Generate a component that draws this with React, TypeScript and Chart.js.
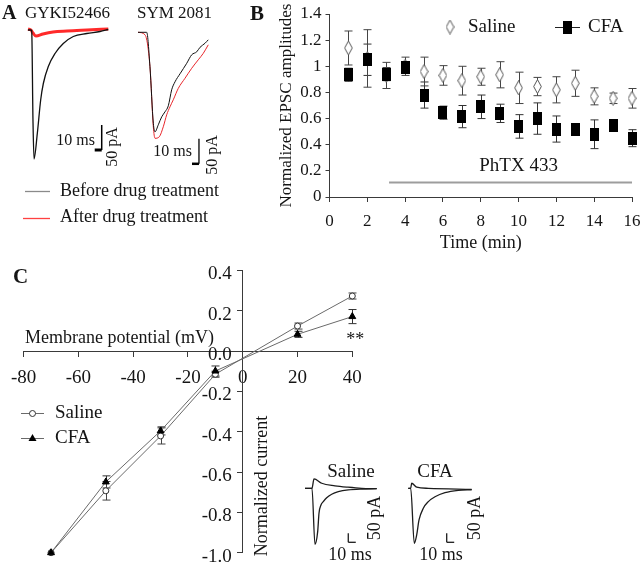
import { useEffect, useRef } from "react";
import { Chart, registerables } from "chart.js";

Chart.register(...registerables);

const W = 640;
const H = 565;
const SERIF = "Liberation Serif";
const INK = "#151515";
const AXIS = "#3a3a3a";

// ---------------- Panel A: example EPSC traces (ms, pA) ----------------
const gykiBeforeMs = [0, 4.3, 5.3, 7.1, 8.6, 13.3, 18.1, 21.9, 29, 38.6, 50.4, 64.7, 83.9, 102.9, 114.7];
const gykiBeforePA = [0, 0, -2, -180, -258, -207, -140, -107, -73, -47, -27, -13, -7, -3, 1];
const gykiAfterMs = [0, 4.3, 7.1, 11.4, 21.4, 35.7, 55.7, 84.3, 114.7];
const gykiAfterPA = [2, 0, -6, -12, -8, -4, -2, 0, 2];
const symBeforeMs = [0, 12.4, 17.1, 21.9, 24.3, 29, 33.9, 38.6, 43.3, 48.1, 52.9, 60, 69.6, 76.7, 83.9, 88.6, 95.7, 100.4];
const symBeforePA = [0, 0, -69, -182, -199, -185, -169, -159, -147, -115, -99, -83, -62, -45, -39, -30, -22, -15];
const symAfterMs = [0, 10, 17.1, 21.9, 24.3, 30.4, 36.1, 41, 45.7, 50.4, 57.6, 67.1, 76.7, 86.1, 93.3, 100.4];
const symAfterPA = [0, -5, -69, -189, -212, -209, -189, -165, -149, -135, -112, -92, -72, -55, -42, -25];
const drugNames = ["GYKI52466", "SYM 2081"];
const traceLegend = ["Before drug treatment", "After drug treatment"];
const barMs = 10;
const barPA = 50;

// ---------------- Panel B: normalized EPSC amplitude vs time ----------------
const timeMin = [1, 2, 3, 4, 5, 6, 7, 8, 9, 10, 11, 12, 13, 14, 15, 16];
const salineAmp = [1.14, 1.06, 0.93, 1.0, 0.96, 0.93, 0.89, 0.92, 0.935, 0.835, 0.845, 0.82, 0.87, 0.77, 0.755, 0.755];
const salineAmpErr = [0.13, 0.22, 0.1, 0.07, 0.11, 0.075, 0.11, 0.065, 0.1, 0.12, 0.07, 0.1, 0.1, 0.065, 0.04, 0.075];
const cfaAmp = [0.935, 1.05, 0.94, 0.99, 0.78, 0.645, 0.615, 0.69, 0.64, 0.54, 0.6, 0.52, 0.52, 0.48, 0.55, 0.45];
const cfaAmpErr = [0.05, 0.12, 0.05, 0.04, 0.1, 0.05, 0.085, 0.09, 0.07, 0.09, 0.12, 0.1, 0.03, 0.11, 0.03, 0.065];
const phtxMin = [3.15, 16];
const phtxLevel = 0.11;

// ---------------- Panel C: I-V relation ----------------
const membranePotential = [-70, -50, -30, -10, 20, 40];
const salineCurrent = [-1.0, -0.693, -0.421, -0.115, 0.124, 0.273];
const salineCurrentErr = [0, 0.046, 0.04, 0.015, 0.015, 0.015];
const cfaCurrent = [-1.0, -0.649, -0.396, -0.099, 0.083, 0.171];
const cfaCurrentErr = [0, 0.03, 0.02, 0.025, 0.015, 0.035];
// inset traces (ms, pA): outward (+40 mV) and inward (-70 mV)
const salineOutMs = [0, 9.3, 12, 22.3, 40, 57.3, 75.6, 95.6];
const salineOutPA = [0, 0, 52, 28, 14, 6, 0, -2];
const salineInMs = [0, 9.3, 13.3, 16.9, 18.7, 21.3, 24.4, 28.9, 35.6, 44.4, 57.7, 75.6, 95.6];
const salineInPA = [0, 0, -311, -241, -137, -93, -74, -52, -33, -19, -9, -4, -2];
const cfaOutMs = [0, 3.2, 4.5, 11.2, 26.7, 84.5];
const cfaOutPA = [0, 0, 28, 6, 0, -6];
const cfaInMs = [0, 3.2, 8, 11.2, 14.3, 20, 26.7, 35.6, 48.9, 66.7, 84.5];
const cfaInPA = [0, 0, -306, -259, -176, -111, -74, -47, -24, -11, -8];

type Area = { left: number; top: number; right: number; bottom: number };
const padOf = (a: Area) => ({ left: a.left, top: a.top, right: W - a.right, bottom: H - a.bottom });
const xy = (xs: number[], ys: number[]) => xs.map((x, i) => ({ x, y: ys[i] }));

function label(ctx: CanvasRenderingContext2D, s: string, x: number, y: number, size: number, o: any = {}) {
  ctx.save();
  ctx.font = `${o.bold ? "bold " : ""}${size}px ${SERIF}`;
  ctx.fillStyle = o.color || INK;
  ctx.textAlign = o.align || "left";
  ctx.textBaseline = "middle";
  ctx.translate(x, y);
  if (o.rotate) ctx.rotate(o.rotate);
  ctx.fillText(s, 0, 0);
  ctx.restore();
}

function seg(ctx: CanvasRenderingContext2D, x1: number, y1: number, x2: number, y2: number, color: string, w: number) {
  ctx.save();
  ctx.strokeStyle = color;
  ctx.lineWidth = w;
  ctx.beginPath();
  ctx.moveTo(x1, y1);
  ctx.lineTo(x2, y2);
  ctx.stroke();
  ctx.restore();
}

const errorBars = {
  id: "errorBars",
  beforeDatasetsDraw(chart: any) {
    const ctx = chart.ctx;
    chart.data.datasets.forEach((ds: any, i: number) => {
      if (!ds.errors) return;
      const meta = chart.getDatasetMeta(i);
      const ys = chart.scales[meta.yAxisID];
      ctx.save();
      ctx.strokeStyle = ds.errorColor || AXIS;
      ctx.lineWidth = 1;
      meta.data.forEach((el: any, j: number) => {
        const e = ds.errors[j];
        if (!e) return;
        const v = ds.data[j].y;
        const x = Math.round(el.x) + 0.5;
        const t = ys.getPixelForValue(v + e);
        const b = ys.getPixelForValue(v - e);
        const c = ds.errorCap || 4;
        ctx.beginPath();
        ctx.moveTo(x, t);
        ctx.lineTo(x, b);
        ctx.moveTo(x - c, t);
        ctx.lineTo(x + c, t);
        ctx.moveTo(x - c, b);
        ctx.lineTo(x + c, b);
        ctx.stroke();
      });
      ctx.restore();
    });
  },
};

function traceChart(canvas: HTMLCanvasElement, area: Area, xr: number[], yr: number[], datasets: any[], draw: (c: any) => void) {
  return new Chart(canvas, {
    type: "scatter",
    data: {
      datasets: datasets.map((d) => ({
        showLine: true,
        pointRadius: 0,
        borderWidth: 1.2,
        borderColor: "#1c1c1c",
        clip: false,
        ...d,
      })),
    },
    options: {
      animation: false,
      responsive: false,
      events: [],
      layout: { padding: padOf(area) },
      plugins: { legend: { display: false }, tooltip: { enabled: false } },
      scales: {
        x: { type: "linear", display: false, min: xr[0], max: xr[1] },
        y: { type: "linear", display: false, min: yr[0], max: yr[1] },
      },
    } as any,
    plugins: [{ id: "ann", afterDraw: (c: any) => draw(c) }],
  });
}

function scaleBarSets(t: number, i: number, color: string, hw: number, vw: number, lShape: boolean) {
  // lShape: vertical on left of horizontal ("L"); otherwise "_|"
  const h = lShape ? [{ x: t, y: i }, { x: t + barMs, y: i }] : [{ x: t - barMs, y: i }, { x: t, y: i }];
  const v = [{ x: t, y: i }, { x: t, y: i + barPA }];
  return [
    { data: h, borderColor: color, borderWidth: hw, cubicInterpolationMode: "default" },
    { data: v, borderColor: color, borderWidth: vw, cubicInterpolationMode: "default" },
  ];
}

function makeDiamond() {
  const c = document.createElement("canvas");
  c.width = 9;
  c.height = 15;
  const g = c.getContext("2d")!;
  g.beginPath();
  g.moveTo(4.5, 0.5);
  g.lineTo(8.3, 7.5);
  g.lineTo(4.5, 14.5);
  g.lineTo(0.7, 7.5);
  g.closePath();
  g.fillStyle = "#fff";
  g.fill();
  g.strokeStyle = "#555";
  g.lineWidth = 1;
  g.stroke();
  return c;
}

function makeBlock() {
  const c = document.createElement("canvas");
  c.width = 9;
  c.height = 13;
  const g = c.getContext("2d")!;
  g.fillStyle = "#000";
  g.fillRect(0, 0, 9, 13);
  return c;
}

const axisFont = (size: number) => ({ family: SERIF, size, weight: "normal", style: "normal" });

export default function App() {
  const r0 = useRef<HTMLCanvasElement>(null);
  const r1 = useRef<HTMLCanvasElement>(null);
  const r2 = useRef<HTMLCanvasElement>(null);
  const r3 = useRef<HTMLCanvasElement>(null);
  const r4 = useRef<HTMLCanvasElement>(null);
  const r5 = useRef<HTMLCanvasElement>(null);

  useEffect(() => {
    Chart.defaults.font.family = SERIF;
    Chart.defaults.color = INK;
    const charts: Chart[] = [];
    const mono = { cubicInterpolationMode: "monotone" };

    // ---- Panel A: GYKI52466 ----
    charts.push(
      traceChart(
        r0.current!,
        { left: 28, right: 112, top: 20, bottom: 170 },
        [0, 120],
        [-280, 20],
        [
          { data: xy(gykiBeforeMs, gykiBeforePA), borderColor: "#111", borderWidth: 1.3, ...mono },
          { data: xy(gykiAfterMs, gykiAfterPA), borderColor: "#ff2a2a", borderWidth: 3, ...mono },
          ...scaleBarSets(105.3, -240, "#000", 3, 1.5, false),
        ],
        (c) => {
          const ctx = c.ctx;
          label(ctx, "A", 2, 14, 20, { bold: true });
          label(ctx, drugNames[0], 25, 14, 17);
          label(ctx, "10 ms", 95, 141, 16, { align: "right" });
          label(ctx, "50 pA", 113, 147, 16, { align: "center", rotate: -Math.PI / 2 });
          seg(ctx, 25, 191.5, 50, 191.5, "#8a8a8a", 1.3);
          label(ctx, traceLegend[0], 60, 191, 18);
          seg(ctx, 23, 218.5, 50, 218.5, "#ff4040", 1.3);
          label(ctx, traceLegend[1], 60, 217, 18);
        }
      )
    );

    // ---- Panel A: SYM 2081 ----
    charts.push(
      traceChart(
        r1.current!,
        { left: 138, right: 222, top: 22.3, bottom: 172.3 },
        [0, 120],
        [-280, 20],
        [
          { data: xy(symBeforeMs, symBeforePA), borderColor: "#111", borderWidth: 1, ...mono },
          { data: xy(symAfterMs, symAfterPA), borderColor: "#e8262b", borderWidth: 1, ...mono },
          ...scaleBarSets(87.1, -263, "#000", 2.5, 1.3, false),
        ],
        (c) => {
          const ctx = c.ctx;
          label(ctx, drugNames[1], 137, 14, 17);
          label(ctx, "10 ms", 192, 152, 16, { align: "right" });
          label(ctx, "50 pA", 213, 155, 16, { align: "center", rotate: -Math.PI / 2 });
        }
      )
    );

    // ---- Panel C insets ----
    const insetY = [-320, 60];
    charts.push(
      traceChart(
        r2.current!,
        { left: 305, right: 380, top: 477.5, bottom: 545.9 },
        [0, 100],
        insetY,
        [
          { data: xy(salineOutMs, salineOutPA), borderWidth: 1.3, ...mono },
          { data: xy(salineInMs, salineInPA), borderWidth: 1.3, ...mono },
          ...scaleBarSets(57.7, -300, "#1c1c1c", 1.3, 1.3, true),
        ],
        (c) => {
          const ctx = c.ctx;
          label(ctx, "Saline", 351, 472, 19, { align: "center" });
          label(ctx, "10 ms", 350, 555, 18, { align: "center" });
          label(ctx, "50 pA", 375, 518, 18, { align: "center", rotate: -Math.PI / 2 });
        }
      )
    );
    charts.push(
      traceChart(
        r3.current!,
        { left: 408.3, right: 483.3, top: 477.5, bottom: 545.9 },
        [0, 100],
        insetY,
        [
          { data: xy(cfaOutMs, cfaOutPA), borderWidth: 1.3, ...mono },
          { data: xy(cfaInMs, cfaInPA), borderWidth: 1.3, ...mono },
          ...scaleBarSets(51.2, -300, "#1c1c1c", 1.3, 1.3, true),
        ],
        (c) => {
          const ctx = c.ctx;
          label(ctx, "CFA", 435, 472, 19, { align: "center" });
          label(ctx, "10 ms", 441, 555, 18, { align: "center" });
          label(ctx, "50 pA", 475, 518, 18, { align: "center", rotate: -Math.PI / 2 });
        }
      )
    );

    // ---- Panel B ----
    const diamond = makeDiamond();
    const block = makeBlock();
    const gridTicks = (len: number) => ({
      display: true,
      drawOnChartArea: false,
      drawTicks: true,
      tickLength: len,
      color: AXIS,
      lineWidth: 1,
    });
    charts.push(
      new Chart(r4.current!, {
        type: "scatter",
        data: {
          datasets: [
            {
              label: "CFA",
              data: xy(timeMin, cfaAmp),
              pointStyle: block as any,
              pointRadius: 5,
              clip: false,
              errors: cfaAmpErr,
              errorColor: "#333",
              errorCap: 4,
            } as any,
            {
              label: "Saline",
              data: xy(timeMin, salineAmp),
              pointStyle: diamond as any,
              pointRadius: 5,
              clip: false,
              errors: salineAmpErr,
              errorColor: "#444",
              errorCap: 4,
            } as any,
            {
              label: "PhTX 433",
              data: phtxMin.map((x) => ({ x, y: phtxLevel })),
              showLine: true,
              pointRadius: 0,
              borderColor: "#9d9d9d",
              borderWidth: 2,
              clip: false,
            },
          ],
        },
        options: {
          animation: false,
          responsive: false,
          events: [],
          layout: { padding: { left: 276.5, top: 14, right: 8, bottom: 311 } },
          plugins: { legend: { display: false }, tooltip: { enabled: false } },
          scales: {
            x: {
              type: "linear",
              position: "bottom",
              min: 0,
              max: 16,
              ticks: { stepSize: 2, font: axisFont(17), color: INK, padding: 9, autoSkip: false, maxRotation: 0 },
              grid: gridTicks(5),
              border: { display: true, color: AXIS, width: 1 },
              title: { display: true, text: "Time (min)", color: INK, font: axisFont(18), padding: { top: 0, bottom: 0 } },
              afterFit: (s: any) => {
                s.height = 57;
                s.paddingLeft = 0;
                s.paddingRight = 0;
              },
            },
            y: {
              type: "linear",
              position: "left",
              min: 0,
              max: 1.4,
              ticks: {
                stepSize: 0.2,
                font: axisFont(17),
                color: INK,
                padding: 4,
                callback: (v: any) => String(Number(Number(v).toFixed(1))),
              },
              grid: gridTicks(4),
              border: { display: true, color: AXIS, width: 1 },
              afterFit: (s: any) => {
                s.width = 53;
                s.paddingTop = 0;
                s.paddingBottom = 0;
              },
            },
          },
        } as any,
        plugins: [
          errorBars,
          {
            id: "annB",
            afterDraw: (c: any) => {
              const { ctx } = c;
              const { x, y } = c.scales;
              const ds = c.data.datasets;
              label(ctx, "B", 250, 15, 21, { bold: true });
              label(ctx, "Normalized EPSC amplitudes", 287, (y.top + y.bottom) / 2, 17, {
                align: "center",
                rotate: -Math.PI / 2,
              });
              ctx.drawImage(diamond, 450 - diamond.width / 2, 27 - diamond.height / 2);
              label(ctx, ds[1].label, 468, 27, 19);
              seg(ctx, 555, 27.5, 580, 27.5, "#222", 1);
              ctx.drawImage(block, 567 - block.width / 2, 27 - block.height / 2);
              label(ctx, ds[0].label, 588, 27, 19);
              label(ctx, ds[2].label, x.getPixelForValue(10), y.getPixelForValue(0.235), 19, { align: "center" });
            },
          },
        ],
      })
    );

    // ---- Panel C ----
    charts.push(
      new Chart(r5.current!, {
        type: "scatter",
        data: {
          datasets: [
            {
              label: "CFA",
              data: xy(membranePotential, cfaCurrent),
              showLine: true,
              borderColor: "#6a6a6a",
              borderWidth: 1,
              pointStyle: "triangle",
              pointRadius: 4,
              pointBackgroundColor: "#000",
              pointBorderColor: "#000",
              pointBorderWidth: 1,
              clip: false,
              errors: cfaCurrentErr,
              errorColor: "#333",
              errorCap: 4,
            } as any,
            {
              label: "Saline",
              data: xy(membranePotential, salineCurrent),
              showLine: true,
              borderColor: "#6a6a6a",
              borderWidth: 1,
              pointStyle: "circle",
              pointRadius: 3,
              pointBackgroundColor: "#fff",
              pointBorderColor: "#333",
              pointBorderWidth: 1,
              clip: false,
              errors: salineCurrentErr,
              errorColor: "#444",
              errorCap: 4,
            } as any,
          ],
        },
        options: {
          animation: false,
          responsive: false,
          events: [],
          layout: { padding: { left: 20.7, top: 270.4, right: W - 352.3, bottom: H - 552.7 } },
          plugins: { legend: { display: false }, tooltip: { enabled: false } },
          scales: {
            x: {
              type: "linear",
              position: { y: 0 },
              min: -80,
              max: 40,
              ticks: { stepSize: 20, font: axisFont(19), color: INK, padding: 11, autoSkip: false, maxRotation: 0 },
              grid: gridTicks(5),
              border: { display: true, color: AXIS, width: 1 },
            },
            y: {
              type: "linear",
              position: { x: 0 },
              min: -1,
              max: 0.4,
              ticks: { stepSize: 0.2, display: false },
              grid: gridTicks(5),
              border: { display: true, color: AXIS, width: 1 },
            },
          },
        } as any,
        plugins: [
          errorBars,
          {
            id: "annC",
            afterDraw: (c: any) => {
              const { ctx } = c;
              const { x, y } = c.scales;
              const ds = c.data.datasets;
              const ax = x.getPixelForValue(0);
              label(ctx, "C", 13, 278, 21, { bold: true });
              y.ticks.forEach((t: any) => {
                label(ctx, (Math.abs(t.value) < 1e-9 ? 0 : t.value).toFixed(1), ax - 11, y.getPixelForValue(t.value) + 4, 19, {
                  align: "right",
                });
              });
              label(ctx, "Membrane potential (mV)", 25, 338, 18);
              label(ctx, "**", x.getPixelForValue(40) + 3, 340, 18, { align: "center" });
              label(ctx, "Normalized current", ax + 20, 486, 18, { align: "center", rotate: -Math.PI / 2 });
              // legend
              seg(ctx, 21, 413.5, 44, 413.5, "#6a6a6a", 1);
              ctx.save();
              ctx.beginPath();
              ctx.arc(32.5, 413.5, 3, 0, Math.PI * 2);
              ctx.fillStyle = "#fff";
              ctx.fill();
              ctx.strokeStyle = "#333";
              ctx.lineWidth = 1;
              ctx.stroke();
              ctx.restore();
              label(ctx, ds[1].label, 55, 413, 19);
              seg(ctx, 21, 438.5, 44, 438.5, "#6a6a6a", 1);
              ctx.save();
              ctx.beginPath();
              ctx.moveTo(32.5, 434);
              ctx.lineTo(36.5, 441);
              ctx.lineTo(28.5, 441);
              ctx.closePath();
              ctx.fillStyle = "#000";
              ctx.fill();
              ctx.restore();
              label(ctx, ds[0].label, 55, 438, 19);
            },
          },
        ],
      })
    );

    return () => charts.forEach((c) => c.destroy());
  }, []);

  const cs: any = { position: "absolute", left: 0, top: 0, width: W, height: H };
  return (
    <div style={{ position: "fixed", left: 0, top: 0, width: W, height: H, background: "#fff", overflow: "hidden" }}>
      <canvas ref={r0} width={W} height={H} style={cs} />
      <canvas ref={r1} width={W} height={H} style={cs} />
      <canvas ref={r2} width={W} height={H} style={cs} />
      <canvas ref={r3} width={W} height={H} style={cs} />
      <canvas ref={r4} width={W} height={H} style={cs} />
      <canvas ref={r5} width={W} height={H} style={cs} />
    </div>
  );
}
